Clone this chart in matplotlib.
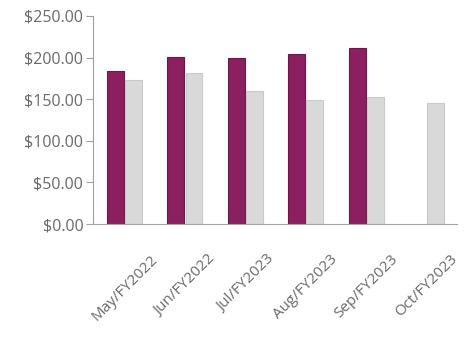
import matplotlib
matplotlib.use("Agg")
import matplotlib.pyplot as plt
import numpy as np
from matplotlib.ticker import FuncFormatter

months = ["May/FY2022", "Jun/FY2022", "Jul/FY2023", "Aug/FY2023", "Sep/FY2023", "Oct/FY2023"]
series_a = [184, 201, 200, 204, 211, np.nan]
series_b = [173, 182, 160, 149, 153, 146]
y_ticks = [0, 50, 100, 150, 200, 250]

plt.rcParams["font.family"] = ["Open Sans", "DejaVu Sans"]

fig = plt.figure(figsize=(4.74, 3.42), dpi=100)
ax = fig.add_axes([93 / 474, 1 - 224 / 342, (457 - 93) / 474, (224 - 16) / 342])

x = np.arange(len(months))
w = 0.28
gap = 0.02
ax.bar(x - w / 2 - gap / 2, series_a, width=w, color="#8c1f5f",
       edgecolor="#6a1848", linewidth=0.8, zorder=2)
ax.bar(x + w / 2 + gap / 2, series_b, width=w, color="#d9d9d9",
       edgecolor="#c9c9c9", linewidth=0.8, zorder=2)

ax.set_xlim(-0.52, 5.5)
ax.set_ylim(0, 250)
ax.set_yticks(y_ticks)
ax.yaxis.set_major_formatter(FuncFormatter(lambda v, p: f"${v:,.2f}"))
ax.set_xticks(x)
ax.set_xticklabels(months, rotation=45, ha="center", va="top")

for s in ["top", "right"]:
    ax.spines[s].set_visible(False)
for s in ["left", "bottom"]:
    ax.spines[s].set_color("#a0a0a0")
    ax.spines[s].set_linewidth(0.8)

ax.tick_params(axis="y", length=5, width=0.8, color="#a0a0a0", labelsize=11.5,
               labelcolor="#6a6a6a", pad=2)
ax.tick_params(axis="x", length=0, labelsize=11, labelcolor="#6a6a6a", pad=20)

fig.savefig("out.png", dpi=100, facecolor="white")
